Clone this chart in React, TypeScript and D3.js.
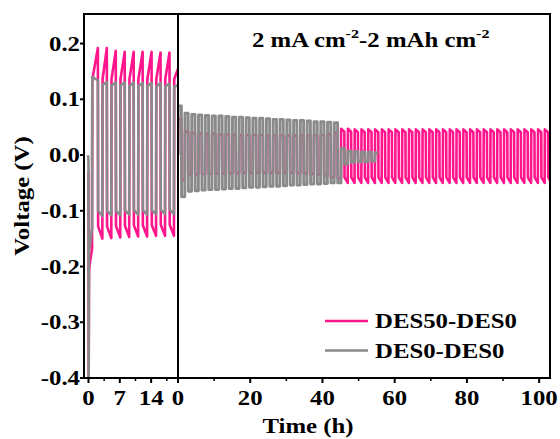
import React from 'react';
import * as d3 from 'd3';

// ---------- layout ----------
const W = 560;
const H = 439;
const FRAME = { left: 84, right: 550, top: 14, bottom: 378, split: 178 };

// ---------- axes ----------
const Y_DOMAIN = [-0.4, 0.253];
const Y_TICKS = [-0.4, -0.3, -0.2, -0.1, 0.0, 0.1, 0.2];
const Y_TICK_LABELS = ['-0.4', '-0.3', '-0.2', '-0.1', '0.0', '0.1', '0.2'];
const LEFT_X_DOMAIN = [-1, 20];
const LEFT_X_TICKS = [0, 7, 14];
const LEFT_X_LABELS = ['0', '7', '14'];
const LEFT_X_MINOR = [3.5, 10.5, 17.5];
const RIGHT_X_DOMAIN = [0, 103];
const RIGHT_X_TICKS = [0, 20, 40, 60, 80, 100];
const RIGHT_X_LABELS = ['0', '20', '40', '60', '80', '100'];
const RIGHT_X_MINOR = [10, 30, 50, 70, 90];

const X_TITLE = 'Time (h)';
const Y_TITLE = 'Voltage (V)';
const SERIES_NAMES = ['DES50-DES0', 'DES0-DES0'];
const SERIES_COLORS = ['#FF168D', '#8A8A8A'];

// ---------- left panel data (first 20 h) ----------
// half-cycle boundaries (h): negative, positive, negative, ...
const LEFT_BOUNDS = [0.15, 0.8, 2.1, 3.1, 4.1, 5.1, 6.1, 7.1, 8.1, 9.1, 10.1, 11.1, 12.1, 13.1, 14.1, 15.1, 16.1, 17.1, 18.1, 19.1, 20.0];

// DES50-DES0
const PINK_LEFT_LEAD_T = [0.0, 0.05, 0.12];
const PINK_LEFT_LEAD_V = [-0.03, -0.4, -0.21];
const PINK_LEFT_NEG_START = [-0.2, -0.128, -0.128, -0.127, -0.127, -0.126, -0.126, -0.126, -0.125, -0.125];
const PINK_LEFT_NEG_END = [-0.168, -0.15, -0.149, -0.148, -0.147, -0.146, -0.146, -0.145, -0.145, -0.145];
const PINK_LEFT_POS_START = [0.135, 0.136, 0.136, 0.136, 0.136, 0.136, 0.136, 0.136, 0.136, 0.136];
const PINK_LEFT_POS_END = [0.192, 0.192, 0.187, 0.185, 0.185, 0.185, 0.185, 0.184, 0.184, 0.155];

// DES0-DES0
const GRAY_LEFT_LEAD_T = [-0.1, 0.0, 0.04, 0.12];
const GRAY_LEFT_LEAD_V = [0.0, -0.01, -0.4, -0.17];
const GRAY_LEFT_NEG_START = [-0.17, -0.1, -0.1, -0.1, -0.099, -0.099, -0.099, -0.099, -0.098, -0.098];
const GRAY_LEFT_NEG_END = [-0.13, -0.109, -0.108, -0.108, -0.107, -0.107, -0.107, -0.106, -0.106, -0.106];
const GRAY_LEFT_POS_START = [0.14, 0.126, 0.125, 0.125, 0.124, 0.124, 0.124, 0.123, 0.123, 0.123];
const GRAY_LEFT_POS_END = [0.134, 0.131, 0.13, 0.13, 0.13, 0.129, 0.129, 0.129, 0.128, 0.125];

// ---------- right panel data (0-103 h) ----------
const RIGHT_PERIOD = 1.88;

// DES0-DES0: large polarisation until ~45 h, then small (soft short)
const GRAY_RIGHT_POS = [0.088, 0.075, 0.073, 0.072, 0.071, 0.07, 0.07, 0.069, 0.068, 0.068, 0.067, 0.066, 0.066, 0.065, 0.064, 0.064, 0.063, 0.062, 0.062, 0.061, 0.06, 0.06, 0.059, 0.058];
const GRAY_RIGHT_NEG = [-0.075, -0.065, -0.064, -0.063, -0.062, -0.062, -0.061, -0.06, -0.06, -0.059, -0.058, -0.058, -0.057, -0.056, -0.056, -0.055, -0.054, -0.054, -0.053, -0.052, -0.052, -0.051, -0.05, -0.05];
const GRAY_SMALL_POS = [0.012, 0.007, 0.006, 0.005, 0.005, 0.004];
const GRAY_SMALL_NEG = [-0.016, -0.013, -0.012, -0.012, -0.011];

// DES50-DES0
const PINK_RIGHT_A_POS = [0.065, 0.042, 0.04, 0.039, 0.038, 0.038, 0.037, 0.037, 0.037, 0.036, 0.036, 0.036, 0.036, 0.035, 0.035, 0.035, 0.035, 0.035, 0.035, 0.035, 0.035, 0.036, 0.038, 0.04];
const PINK_RIGHT_A_NEG = [-0.045, -0.036, -0.035, -0.034, -0.034, -0.033, -0.033, -0.033, -0.033, -0.032, -0.032, -0.032, -0.032, -0.032, -0.032, -0.032, -0.032, -0.033, -0.033, -0.034, -0.035, -0.037, -0.04, -0.042];
const PINK_RIGHT_B_POS_START = [0.047, 0.047, 0.046, 0.046, 0.046, 0.046, 0.046, 0.046, 0.046, 0.046, 0.046, 0.046, 0.046, 0.046, 0.046, 0.046, 0.046, 0.046, 0.046, 0.046, 0.046, 0.046, 0.046, 0.046, 0.046, 0.046, 0.046, 0.046, 0.046, 0.046, 0.046];
const PINK_RIGHT_B_POS_END = [0.042, 0.042, 0.041, 0.041, 0.041, 0.041, 0.041, 0.041, 0.041, 0.041, 0.041, 0.041, 0.041, 0.041, 0.041, 0.041, 0.041, 0.041, 0.041, 0.041, 0.041, 0.041, 0.041, 0.041, 0.041, 0.041, 0.041, 0.041, 0.041, 0.041, 0.041];
const PINK_RIGHT_B_NEG_START = [-0.04, -0.04, -0.04, -0.04, -0.04, -0.04, -0.04, -0.04, -0.04, -0.04, -0.04, -0.04, -0.04, -0.04, -0.04, -0.04, -0.04, -0.04, -0.04, -0.04, -0.04, -0.04, -0.04, -0.04, -0.04, -0.04, -0.04, -0.04, -0.04, -0.04, -0.04];
const PINK_RIGHT_B_NEG_END = [-0.05, -0.05, -0.05, -0.05, -0.05, -0.05, -0.05, -0.05, -0.05, -0.05, -0.05, -0.05, -0.05, -0.05, -0.05, -0.05, -0.05, -0.05, -0.05, -0.05, -0.05, -0.05, -0.05, -0.05, -0.05, -0.05, -0.05, -0.05, -0.05, -0.05, -0.05];

// ---------- helpers ----------
type Pt = [number, number];
const TR = 0.05;

function interleave(a: number[], b: number[]): number[] {
  const out: number[] = [];
  const n = Math.max(a.length, b.length);
  for (let i = 0; i < n; i++) {
    if (i < a.length) out.push(a[i]);
    if (i < b.length) out.push(b[i]);
  }
  return out;
}

function squareWave(bounds: number[], starts: number[], ends: number[], lead: Pt[] = []): Pt[] {
  const pts: Pt[] = [...lead];
  for (let i = 0; i < starts.length; i++) {
    pts.push([bounds[i] + TR, starts[i]]);
    pts.push([bounds[i + 1], ends[i]]);
  }
  return pts;
}

function halfBounds(n: number, offset: number): number[] {
  return d3.range(n + 1).map((i) => offset + (i * RIGHT_PERIOD) / 2);
}

const FONT = "'Liberation Serif', 'Times New Roman', serif";
const SX = 1.24;

function T(props: { x: number; y: number; anchor?: string; rotate?: number; size?: number; children: React.ReactNode }) {
  const { x, y, anchor = 'start', rotate = 0, size = 20, children } = props;
  return (
    <text
      transform={`translate(${x},${y}) rotate(${rotate}) scale(${SX},1)`}
      textAnchor={anchor}
      fontFamily={FONT}
      fontWeight="bold"
      fontSize={size}
      fill="#000"
    >
      {children}
    </text>
  );
}

export default function App() {
  const y = d3.scaleLinear().domain(Y_DOMAIN).range([FRAME.bottom, FRAME.top]);
  const xL = d3.scaleLinear().domain(LEFT_X_DOMAIN).range([FRAME.left, FRAME.split]);
  const xR = d3.scaleLinear().domain(RIGHT_X_DOMAIN).range([FRAME.split, FRAME.right]);

  const lineL = d3.line<Pt>().x((d) => xL(d[0])).y((d) => y(d[1]));
  const lineR = d3.line<Pt>().x((d) => xR(d[0])).y((d) => y(d[1]));

  // left series
  const pinkLeft = squareWave(
    LEFT_BOUNDS,
    interleave(PINK_LEFT_NEG_START, PINK_LEFT_POS_START),
    interleave(PINK_LEFT_NEG_END, PINK_LEFT_POS_END),
    PINK_LEFT_LEAD_T.map((t, i) => [t, PINK_LEFT_LEAD_V[i]] as Pt)
  );
  const grayLeft = squareWave(
    LEFT_BOUNDS,
    interleave(GRAY_LEFT_NEG_START, GRAY_LEFT_POS_START),
    interleave(GRAY_LEFT_NEG_END, GRAY_LEFT_POS_END),
    GRAY_LEFT_LEAD_T.map((t, i) => [t, GRAY_LEFT_LEAD_V[i]] as Pt)
  );

  // right series
  const grayVals = interleave(GRAY_RIGHT_POS, GRAY_RIGHT_NEG).concat(interleave(GRAY_SMALL_POS, GRAY_SMALL_NEG));
  const grayRight = squareWave(halfBounds(grayVals.length, 0), grayVals, grayVals, [[0, 0.0]]);

  const pinkAVals = interleave(PINK_RIGHT_A_POS, PINK_RIGHT_A_NEG);
  const pinkStarts = pinkAVals.concat(interleave(PINK_RIGHT_B_POS_START, PINK_RIGHT_B_NEG_START));
  const pinkEnds = pinkAVals.concat(interleave(PINK_RIGHT_B_POS_END, PINK_RIGHT_B_NEG_END));
  const pinkRight = squareWave(halfBounds(pinkStarts.length, 0), pinkStarts, pinkEnds, [[0, 0.0]]);

  const lw = 2.6;

  return (
    <svg width={W} height={H} style={{ position: 'absolute', left: 0, top: 0, background: '#fff' }}>
      <defs>
        <clipPath id="clipL">
          <rect x={FRAME.left} y={FRAME.top} width={FRAME.split - FRAME.left} height={FRAME.bottom - FRAME.top} />
        </clipPath>
        <clipPath id="clipR">
          <rect x={FRAME.split} y={FRAME.top} width={FRAME.right - FRAME.split} height={FRAME.bottom - FRAME.top} />
        </clipPath>
      </defs>
      <rect x={0} y={0} width={W} height={H} fill="#fff" />

      <g clipPath="url(#clipL)" fill="none" strokeWidth={lw} strokeLinejoin="round">
        <path d={lineL(pinkLeft) || ''} stroke={SERIES_COLORS[0]} />
        <path d={lineL(grayLeft) || ''} stroke={SERIES_COLORS[1]} />
      </g>
      <g clipPath="url(#clipR)" fill="none" strokeLinejoin="round">
        <path d={lineR(pinkRight) || ''} stroke={SERIES_COLORS[0]} strokeWidth={lw} />
        <path d={lineR(grayRight) || ''} stroke={SERIES_COLORS[1]} strokeWidth={2.9} />
      </g>

      {/* frame */}
      <rect
        x={FRAME.left}
        y={FRAME.top}
        width={FRAME.right - FRAME.left}
        height={FRAME.bottom - FRAME.top}
        fill="none"
        stroke="#000"
        strokeWidth={2}
      />
      <line x1={FRAME.split} x2={FRAME.split} y1={FRAME.top} y2={FRAME.bottom} stroke="#000" strokeWidth={2} />

      {/* y axis */}
      {Y_TICKS.map((v, i) => (
        <g key={'y' + i}>
          <line x1={FRAME.left - 4} x2={FRAME.left} y1={y(v)} y2={y(v)} stroke="#000" strokeWidth={2} />
          <T x={80} y={y(v) + 7} anchor="end">{Y_TICK_LABELS[i]}</T>
        </g>
      ))}

      {/* x axis left */}
      {LEFT_X_TICKS.map((v, i) => (
        <g key={'xl' + i}>
          <line x1={xL(v)} x2={xL(v)} y1={FRAME.bottom} y2={FRAME.bottom + 5} stroke="#000" strokeWidth={2} />
          <T x={xL(v)} y={405} anchor="middle">{LEFT_X_LABELS[i]}</T>
        </g>
      ))}
      {LEFT_X_MINOR.map((v, i) => (
        <line key={'xlm' + i} x1={xL(v)} x2={xL(v)} y1={FRAME.bottom} y2={FRAME.bottom + 3} stroke="#000" strokeWidth={1.5} />
      ))}

      {/* x axis right */}
      {RIGHT_X_TICKS.map((v, i) => (
        <g key={'xr' + i}>
          <line x1={xR(v)} x2={xR(v)} y1={FRAME.bottom} y2={FRAME.bottom + 5} stroke="#000" strokeWidth={2} />
          <T x={xR(v)} y={405} anchor="middle">{RIGHT_X_LABELS[i]}</T>
        </g>
      ))}
      {RIGHT_X_MINOR.map((v, i) => (
        <line key={'xrm' + i} x1={xR(v)} x2={xR(v)} y1={FRAME.bottom} y2={FRAME.bottom + 3} stroke="#000" strokeWidth={1.5} />
      ))}

      {/* titles */}
      <T x={308} y={433} anchor="middle">{X_TITLE}</T>
      <T x={29} y={196} anchor="middle" rotate={-90}>{Y_TITLE}</T>

      {/* annotation */}
      <text
        transform={`translate(252,47) scale(${SX},1)`}
        fontFamily={FONT}
        fontWeight="bold"
        fontSize={20}
        fill="#000"
      >
        2 mA cm
        <tspan fontSize={13} dy={-9}>-2</tspan>
        <tspan dy={9}>-2 mAh cm</tspan>
        <tspan fontSize={13} dy={-9}>-2</tspan>
      </text>

      {/* legend */}
      {SERIES_NAMES.map((name, i) => (
        <g key={'lg' + i}>
          <line x1={325} x2={368} y1={321 + i * 29.5} y2={321 + i * 29.5} stroke={SERIES_COLORS[i]} strokeWidth={2.5} />
          <T x={375} y={328 + i * 29.5}>{name}</T>
        </g>
      ))}
    </svg>
  );
}
